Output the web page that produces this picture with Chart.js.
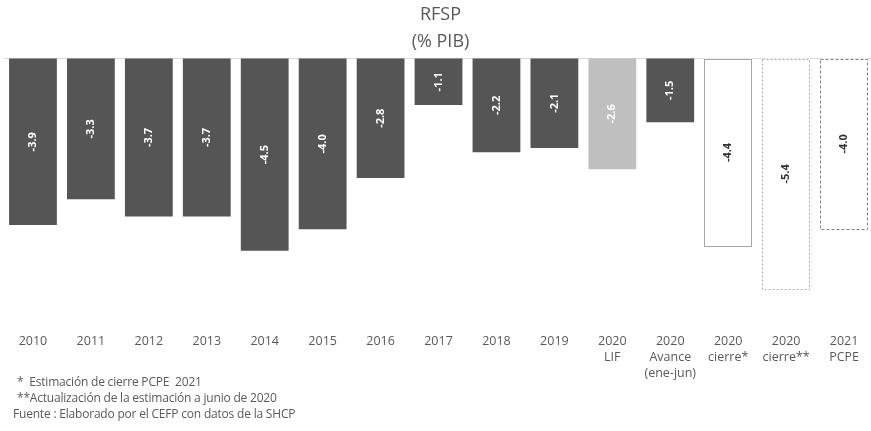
<!DOCTYPE html>
<html>
<head>
<meta charset="utf-8">
<script src="https://cdn.jsdelivr.net/npm/chart.js@4"></script>
<style>
  html, body { margin: 0; padding: 0; background: #fff; overflow: hidden; }
  #wrap { position: relative; width: 877px; height: 431px; }
  .note { position: absolute; left: 15px; font: 12px "Open Sans", sans-serif; color: #595959; white-space: nowrap; letter-spacing: -0.2px; }
</style>
</head>
<body>
<div id="wrap">
  <canvas id="rfsp_chart" width="877" height="431"></canvas>
  <div class="note" style="top:373px;left:17px">*&nbsp; Estimación de cierre PCPE&nbsp; 2021</div>
  <div class="note" style="top:389px;left:17px">**Actualización de la estimación a junio de 2020</div>
  <div class="note" style="top:405px;left:13px">Fuente : Elaborado por el CEFP con datos de la SHCP</div>
</div>
<script>
const categories = [
  ['2010'], ['2011'], ['2012'], ['2013'], ['2014'], ['2015'], ['2016'], ['2017'],
  ['2018'], ['2019'], ['2020', 'LIF'], ['2020', 'Avance', '(ene-jun)'],
  ['2020', 'cierre*'], ['2020', 'cierre**'], ['2021', 'PCPE']
];
const rfsp = [-3.9, -3.3, -3.7, -3.7, -4.5, -4.0, -2.8, -1.1, -2.2, -2.1, -2.6, -1.5, -4.4, -5.4, -4.0];

const DARK = '#555555';
const fills = rfsp.map((v, i) => i === 10 ? '#bfbfbf' : (i >= 12 ? '#ffffff' : DARK));
// outlines for the estimate bars: [colour, dash pattern]
const outlines = { 12: ['#a6a6a6', []], 13: ['#b0b0b0', [2, 2]], 14: ['#808080', [3, 2]] };

const barExtras = {
  id: 'barExtras',
  afterDatasetsDraw(chart) {
    const ctx = chart.ctx;
    const meta = chart.getDatasetMeta(0);
    meta.data.forEach((bar, i) => {
      const { x, y, base, width } = bar.getProps(['x', 'y', 'base', 'width'], true);
      const o = outlines[i];
      if (o) {
        ctx.save();
        ctx.strokeStyle = o[0];
        ctx.lineWidth = 1;
        ctx.setLineDash(o[1]);
        ctx.strokeRect(Math.round(x - width / 2) + 0.5, Math.round(base) + 0.5, Math.round(width) - 1, Math.round(y - base) - 1);
        ctx.restore();
      }
      // value label, rotated, centred in the bar
      ctx.save();
      ctx.translate(x, (y + base) / 2);
      ctx.rotate(-Math.PI / 2);
      ctx.font = 'bold 11px "Open Sans", sans-serif';
      ctx.fillStyle = i >= 12 ? '#333333' : '#ffffff';
      ctx.textAlign = 'center';
      ctx.textBaseline = 'middle';
      ctx.fillText(rfsp[i].toFixed(1), 0, 0);
      ctx.restore();
    });
  }
};

const ctx = document.getElementById('rfsp_chart').getContext('2d');
new Chart(ctx, {
  type: 'bar',
  data: {
    labels: categories,
    datasets: [{
      data: rfsp,
      backgroundColor: fills,
      borderWidth: 0,
      barPercentage: 0.825,
      categoryPercentage: 1
    }]
  },
  plugins: [barExtras],
  options: {
    responsive: false,
    animation: false,
    layout: { padding: { left: 4, right: 0, top: 0, bottom: 32 } },
    plugins: {
      legend: { display: false },
      tooltip: { enabled: false },
      title: {
        display: true,
        text: ['RFSP', '(% PIB)'],
        color: '#595959',
        font: { family: '"Open Sans", sans-serif', size: 18, weight: 'normal', lineHeight: 1.5 },
        padding: { top: 1, bottom: 3 }
      }
    },
    scales: {
      x: {
        grid: { display: false, drawTicks: false },
        border: { display: false },
        ticks: {
          color: '#595959',
          padding: 18,
          maxRotation: 0,
          autoSkip: false,
          font: { family: '"Open Sans", sans-serif', size: 12.5, lineHeight: 1.28 }
        }
      },
      y: {
        min: -6,
        max: 0,
        ticks: { display: false, stepSize: 1 },
        border: { display: false },
        grid: {
          drawTicks: false,
          tickLength: 0,
          color: c => c.tick.value === 0 ? '#d9d9d9' : 'rgba(0,0,0,0)'
        }
      }
    }
  }
});
</script>
</body>
</html>
